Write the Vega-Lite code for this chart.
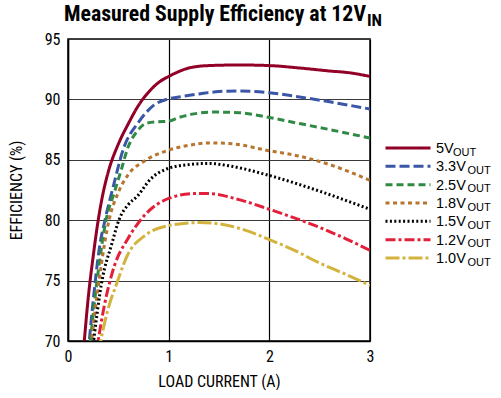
{
  "$schema": "https://vega.github.io/schema/vega-lite/v6.json",
  "background": "white",
  "padding": {"left": 7, "top": 3, "right": 0, "bottom": 0},
  "spacing": 0,
  "bounds": "flush",
  "datasets": {
    "curves": [
      {"series": "5V", "current": 0.15, "efficiency": 68.8},
      {"series": "5V", "current": 0.2, "efficiency": 73.5},
      {"series": "5V", "current": 0.25, "efficiency": 77.0},
      {"series": "5V", "current": 0.3, "efficiency": 80.0},
      {"series": "5V", "current": 0.35, "efficiency": 82.3},
      {"series": "5V", "current": 0.4, "efficiency": 84.0},
      {"series": "5V", "current": 0.5, "efficiency": 86.3},
      {"series": "5V", "current": 0.6, "efficiency": 88.0},
      {"series": "5V", "current": 0.7, "efficiency": 89.5},
      {"series": "5V", "current": 0.8, "efficiency": 90.6},
      {"series": "5V", "current": 0.9, "efficiency": 91.4},
      {"series": "5V", "current": 1.0, "efficiency": 91.9},
      {"series": "5V", "current": 1.1, "efficiency": 92.3},
      {"series": "5V", "current": 1.2, "efficiency": 92.6},
      {"series": "5V", "current": 1.4, "efficiency": 92.8},
      {"series": "5V", "current": 1.7, "efficiency": 92.85},
      {"series": "5V", "current": 2.0, "efficiency": 92.8},
      {"series": "5V", "current": 2.3, "efficiency": 92.6},
      {"series": "5V", "current": 2.6, "efficiency": 92.35},
      {"series": "5V", "current": 2.8, "efficiency": 92.2},
      {"series": "5V", "current": 3.0, "efficiency": 91.9},

      {"series": "3.3V", "current": 0.2, "efficiency": 69.0},
      {"series": "3.3V", "current": 0.25, "efficiency": 73.3},
      {"series": "3.3V", "current": 0.31, "efficiency": 77.6},
      {"series": "3.3V", "current": 0.37, "efficiency": 80.1},
      {"series": "3.3V", "current": 0.45, "efficiency": 82.8},
      {"series": "3.3V", "current": 0.55, "efficiency": 85.9},
      {"series": "3.3V", "current": 0.7, "efficiency": 88.1},
      {"series": "3.3V", "current": 0.85, "efficiency": 89.5},
      {"series": "3.3V", "current": 1.0, "efficiency": 90.05},
      {"series": "3.3V", "current": 1.1, "efficiency": 90.2},
      {"series": "3.3V", "current": 1.3, "efficiency": 90.45},
      {"series": "3.3V", "current": 1.5, "efficiency": 90.65},
      {"series": "3.3V", "current": 1.7, "efficiency": 90.7},
      {"series": "3.3V", "current": 2.0, "efficiency": 90.55},
      {"series": "3.3V", "current": 2.3, "efficiency": 90.2},
      {"series": "3.3V", "current": 2.6, "efficiency": 89.8},
      {"series": "3.3V", "current": 3.0, "efficiency": 89.2},

      {"series": "2.5V", "current": 0.21, "efficiency": 69.0},
      {"series": "2.5V", "current": 0.29, "efficiency": 75.1},
      {"series": "2.5V", "current": 0.38, "efficiency": 80.1},
      {"series": "2.5V", "current": 0.46, "efficiency": 82.3},
      {"series": "2.5V", "current": 0.53, "efficiency": 84.2},
      {"series": "2.5V", "current": 0.59, "efficiency": 85.9},
      {"series": "2.5V", "current": 0.69, "efficiency": 87.4},
      {"series": "2.5V", "current": 0.79, "efficiency": 88.05},
      {"series": "2.5V", "current": 0.9, "efficiency": 88.15},
      {"series": "2.5V", "current": 1.0, "efficiency": 88.2},
      {"series": "2.5V", "current": 1.1, "efficiency": 88.5},
      {"series": "2.5V", "current": 1.25, "efficiency": 88.8},
      {"series": "2.5V", "current": 1.45, "efficiency": 88.95},
      {"series": "2.5V", "current": 1.7, "efficiency": 88.9},
      {"series": "2.5V", "current": 2.0, "efficiency": 88.5},
      {"series": "2.5V", "current": 2.3, "efficiency": 88.0},
      {"series": "2.5V", "current": 2.6, "efficiency": 87.5},
      {"series": "2.5V", "current": 3.0, "efficiency": 86.8},

      {"series": "1.8V", "current": 0.22, "efficiency": 69.0},
      {"series": "1.8V", "current": 0.31, "efficiency": 75.1},
      {"series": "1.8V", "current": 0.41, "efficiency": 80.1},
      {"series": "1.8V", "current": 0.5, "efficiency": 82.3},
      {"series": "1.8V", "current": 0.6, "efficiency": 83.8},
      {"series": "1.8V", "current": 0.76, "efficiency": 84.9},
      {"series": "1.8V", "current": 1.0, "efficiency": 85.8},
      {"series": "1.8V", "current": 1.2, "efficiency": 86.2},
      {"series": "1.8V", "current": 1.4, "efficiency": 86.4},
      {"series": "1.8V", "current": 1.6, "efficiency": 86.35},
      {"series": "1.8V", "current": 2.0, "efficiency": 85.75},
      {"series": "1.8V", "current": 2.3, "efficiency": 85.3},
      {"series": "1.8V", "current": 2.6, "efficiency": 84.6},
      {"series": "1.8V", "current": 3.0, "efficiency": 83.3},

      {"series": "1.5V", "current": 0.24, "efficiency": 69.0},
      {"series": "1.5V", "current": 0.34, "efficiency": 75.1},
      {"series": "1.5V", "current": 0.43, "efficiency": 77.9},
      {"series": "1.5V", "current": 0.51, "efficiency": 80.1},
      {"series": "1.5V", "current": 0.6, "efficiency": 81.3},
      {"series": "1.5V", "current": 0.69, "efficiency": 82.0},
      {"series": "1.5V", "current": 0.82, "efficiency": 83.4},
      {"series": "1.5V", "current": 1.0, "efficiency": 84.3},
      {"series": "1.5V", "current": 1.2, "efficiency": 84.6},
      {"series": "1.5V", "current": 1.4, "efficiency": 84.7},
      {"series": "1.5V", "current": 1.6, "efficiency": 84.5},
      {"series": "1.5V", "current": 2.0, "efficiency": 83.7},
      {"series": "1.5V", "current": 2.5, "efficiency": 82.4},
      {"series": "1.5V", "current": 3.0, "efficiency": 80.9},

      {"series": "1.2V", "current": 0.28, "efficiency": 69.0},
      {"series": "1.2V", "current": 0.36, "efficiency": 72.9},
      {"series": "1.2V", "current": 0.46, "efficiency": 76.2},
      {"series": "1.2V", "current": 0.59, "efficiency": 78.4},
      {"series": "1.2V", "current": 0.76, "efficiency": 80.4},
      {"series": "1.2V", "current": 1.0, "efficiency": 81.8},
      {"series": "1.2V", "current": 1.25, "efficiency": 82.2},
      {"series": "1.2V", "current": 1.4, "efficiency": 82.2},
      {"series": "1.2V", "current": 1.7, "efficiency": 81.7},
      {"series": "1.2V", "current": 2.0, "efficiency": 80.9},
      {"series": "1.2V", "current": 2.5, "efficiency": 79.4},
      {"series": "1.2V", "current": 2.75, "efficiency": 78.5},
      {"series": "1.2V", "current": 3.0, "efficiency": 77.5},

      {"series": "1.0V", "current": 0.3, "efficiency": 69.0},
      {"series": "1.0V", "current": 0.39, "efficiency": 72.4},
      {"series": "1.0V", "current": 0.49, "efficiency": 74.9},
      {"series": "1.0V", "current": 0.59, "efficiency": 77.1},
      {"series": "1.0V", "current": 0.76, "efficiency": 78.7},
      {"series": "1.0V", "current": 1.0, "efficiency": 79.55},
      {"series": "1.0V", "current": 1.3, "efficiency": 79.8},
      {"series": "1.0V", "current": 1.5, "efficiency": 79.7},
      {"series": "1.0V", "current": 1.75, "efficiency": 79.2},
      {"series": "1.0V", "current": 2.0, "efficiency": 78.4},
      {"series": "1.0V", "current": 2.25, "efficiency": 77.5},
      {"series": "1.0V", "current": 2.5, "efficiency": 76.45},
      {"series": "1.0V", "current": 2.75, "efficiency": 75.55},
      {"series": "1.0V", "current": 3.0, "efficiency": 74.6}
    ],
    "legend": [
      {"series": "5V"},
      {"series": "3.3V"},
      {"series": "2.5V"},
      {"series": "1.8V"},
      {"series": "1.5V"},
      {"series": "1.2V"},
      {"series": "1.0V"}
    ]
  },
  "hconcat": [
    {
      "width": 302,
      "height": 302,
      "view": {"stroke": "black", "strokeWidth": 1.5},
      "layer": [
        {
          "data": {"name": "curves"},
          "mark": {"type": "line", "strokeWidth": 3, "interpolate": "monotone", "clip": true},
          "encoding": {
            "x": {
              "field": "current", "type": "quantitative",
              "scale": {"domain": [0, 3], "nice": false, "zero": false},
              "axis": {
                "values": [0, 1, 2, 3], "format": "d", "grid": true, "gridColor": "black", "gridWidth": 1.2,
                "ticks": false, "domainColor": "black", "domainWidth": 1.5, "labelFlush": false,
                "labelFont": "Roboto Condensed, DejaVu Sans Condensed, Liberation Sans Narrow, Liberation Sans, sans-serif",
                "labelFontSize": 16, "labelColor": "black", "labelPadding": 7,
                "title": "LOAD CURRENT (A)",
                "titleFont": "Roboto Condensed, DejaVu Sans Condensed, Liberation Sans Narrow, Liberation Sans, sans-serif",
                "titleFontSize": 16, "titleFontWeight": "normal", "titleColor": "black", "titlePadding": 9
              }
            },
            "y": {
              "field": "efficiency", "type": "quantitative",
              "scale": {"domain": [70, 95], "nice": false, "zero": false},
              "axis": {
                "values": [70, 75, 80, 85, 90, 95], "grid": true, "gridColor": "#3a3a3a", "gridWidth": 1.2,
                "ticks": false, "domainColor": "black", "domainWidth": 1.5, "labelFlush": false,
                "labelFont": "Roboto Condensed, DejaVu Sans Condensed, Liberation Sans Narrow, Liberation Sans, sans-serif",
                "labelFontSize": 16, "labelColor": "black", "labelPadding": 8,
                "title": "EFFICIENCY (%)",
                "titleFont": "Roboto Condensed, DejaVu Sans Condensed, Liberation Sans Narrow, Liberation Sans, sans-serif",
                "titleFontSize": 16, "titleFontWeight": "normal", "titleColor": "black", "titlePadding": 20
              }
            },
            "color": {
              "field": "series", "type": "nominal", "legend": null,
              "scale": {
                "domain": ["5V", "3.3V", "2.5V", "1.8V", "1.5V", "1.2V", "1.0V"],
                "range": ["#920027", "#3b56a6", "#2f8a44", "#b8752f", "#000000", "#e2203a", "#d3b33e"]
              }
            },
            "strokeDash": {
              "field": "series", "type": "nominal", "legend": null,
              "scale": {
                "domain": ["5V", "3.3V", "2.5V", "1.8V", "1.5V", "1.2V", "1.0V"],
                "range": [[1, 0], [10, 4], [7, 4], [4, 3.5], [2, 2.4], [10, 3, 3, 3], [14, 3, 3, 3]]
              }
            },
            "detail": {"field": "series"}
          }
        },
        {
          "data": {"values": [{}]},
          "mark": {
            "type": "text", "text": "Measured Supply Efficiency at 12V", "align": "right", "baseline": "alphabetic",
            "font": "Roboto Condensed, DejaVu Sans Condensed, Liberation Sans Narrow, Liberation Sans, sans-serif", "fontSize": 21.8, "fontWeight": "bold", "color": "black"
          },
          "encoding": {
            "x": {"datum": 2.96, "type": "quantitative"},
            "y": {"datum": 96.5, "type": "quantitative"}
          }
        },
        {
          "data": {"values": [{}]},
          "mark": {
            "type": "text", "text": "IN", "align": "left", "baseline": "alphabetic", "dx": 1, "dy": 5,
            "font": "Roboto Condensed, DejaVu Sans Condensed, Liberation Sans Narrow, Liberation Sans, sans-serif", "fontSize": 17, "fontWeight": "bold", "color": "black"
          },
          "encoding": {
            "x": {"datum": 2.96, "type": "quantitative"},
            "y": {"datum": 96.5, "type": "quantitative"}
          }
        }
      ]
    },
    {
      "width": 125,
      "height": 302,
      "view": {"stroke": null},
      "data": {"name": "legend"},
      "encoding": {
        "y": {
          "field": "series", "type": "nominal", "axis": null,
          "scale": {"type": "point", "domain": ["5V", "3.3V", "2.5V", "1.8V", "1.5V", "1.2V", "1.0V"], "range": [109, 219], "padding": 0}
        }
      },
      "layer": [
        {
          "mark": {"type": "rule", "strokeWidth": 3},
          "encoding": {
            "x": {"datum": 15.5, "type": "quantitative", "scale": {"domain": [0, 125], "nice": false, "zero": false}, "axis": null},
            "x2": {"datum": 60.5},
            "color": {
              "field": "series", "type": "nominal", "legend": null,
              "scale": {
                "domain": ["5V", "3.3V", "2.5V", "1.8V", "1.5V", "1.2V", "1.0V"],
                "range": ["#920027", "#3b56a6", "#2f8a44", "#b8752f", "#000000", "#e2203a", "#d3b33e"]
              }
            },
            "strokeDash": {
              "field": "series", "type": "nominal", "legend": null,
              "scale": {
                "domain": ["5V", "3.3V", "2.5V", "1.8V", "1.5V", "1.2V", "1.0V"],
                "range": [[1, 0], [10, 4], [7, 4], [4, 3.5], [2, 2.4], [10, 3, 3, 3], [14, 3, 3, 3]]
              }
            }
          }
        },
        {
          "mark": {"type": "text", "align": "left", "baseline": "alphabetic", "dy": 5, "font": "Liberation Sans, Arial, sans-serif", "fontSize": 14.5, "color": "black"},
          "encoding": {
            "x": {"datum": 66, "type": "quantitative"},
            "text": {"field": "series"}
          }
        },
        {
          "transform": [{"filter": "datum.series == '5V'"}],
          "mark": {"type": "text", "text": "OUT", "align": "left", "baseline": "alphabetic", "dy": 7.5, "font": "Liberation Sans, Arial, sans-serif", "fontSize": 11, "color": "black"},
          "encoding": {
            "x": {"datum": 83, "type": "quantitative"}
          }
        },
        {
          "transform": [{"filter": "datum.series != '5V'"}],
          "mark": {"type": "text", "text": "OUT", "align": "left", "baseline": "alphabetic", "dy": 7.5, "font": "Liberation Sans, Arial, sans-serif", "fontSize": 11, "color": "black"},
          "encoding": {
            "x": {"datum": 97.5, "type": "quantitative"}
          }
        }
      ]
    }
  ]
}
